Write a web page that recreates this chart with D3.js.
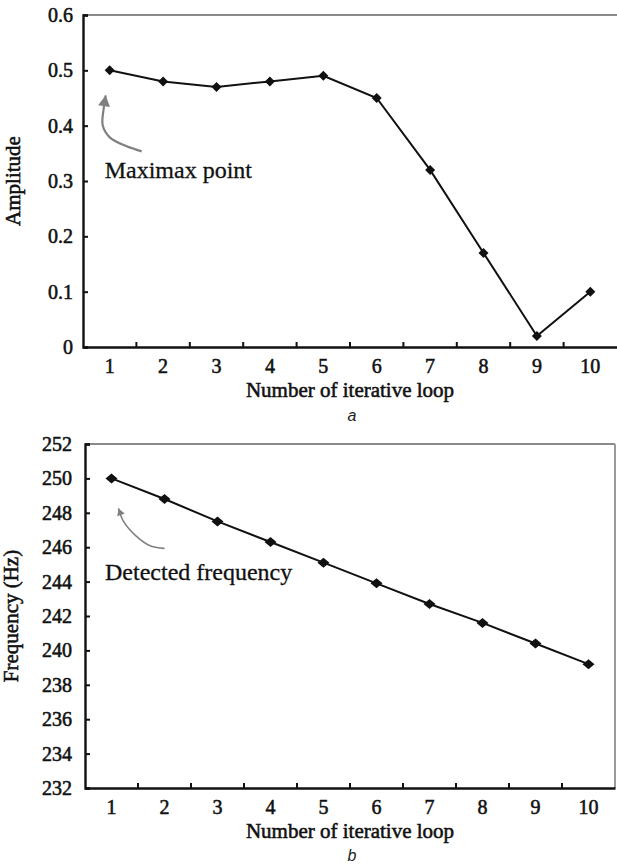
<!DOCTYPE html>
<html>
<head>
<meta charset="utf-8">
<script src="https://cdn.jsdelivr.net/npm/d3@7"></script>
<style>
  body { margin: 0; background: #fff; }
  svg { display: block; }
</style>
</head>
<body>
<svg id="chart" width="617" height="865"></svg>
<script>
// Iteration index shared by both panels
const loops = [1, 2, 3, 4, 5, 6, 7, 8, 9, 10];

// Panel a: amplitude per iterative loop
const amplitude = [0.50, 0.48, 0.47, 0.48, 0.49, 0.45, 0.32, 0.17, 0.02, 0.10];
const amplitudeTicks = [0, 0.1, 0.2, 0.3, 0.4, 0.5, 0.6];

// Panel b: detected frequency (Hz) per iterative loop
const frequency = [250.0, 248.8, 247.5, 246.3, 245.1, 243.9, 242.7, 241.6, 240.4, 239.2];
const frequencyTicks = [232, 234, 236, 238, 240, 242, 244, 246, 248, 250, 252];

const SERIF = "'Liberation Serif', 'Times New Roman', Times, 'DejaVu Serif', serif";
const SANS = "'Liberation Sans', Arial, 'DejaVu Sans', sans-serif";

const svg = d3.select("#chart");

// Diamond marker usable with d3.symbol()
function diamond(w, h) {
  return {
    draw(ctx) {
      ctx.moveTo(0, -h / 2);
      ctx.lineTo(w / 2, 0);
      ctx.lineTo(0, h / 2);
      ctx.lineTo(-w / 2, 0);
      ctx.closePath();
    }
  };
}

function styleText(sel, size) {
  sel.style("font-family", SERIF)
    .style("font-size", size + "px")
    .attr("fill", "#111").attr("stroke", "#111").attr("stroke-width", 0.55);
}

function drawPanel(cfg) {
  const g = svg.append("g");
  const x = d3.scaleBand().domain(loops).range([cfg.left, cfg.right]);
  const y = d3.scaleLinear().domain(cfg.domain).range([cfg.bottom, cfg.top]);
  const cx = d => x(d) + x.bandwidth() / 2;

  // grey frame (top and optional right edge)
  g.append("line")
    .attr("x1", cfg.left).attr("x2", cfg.right)
    .attr("y1", cfg.top).attr("y2", cfg.top)
    .attr("stroke", "#8a8a8a").attr("stroke-width", 2.2);
  if (cfg.rightBorder) {
    g.append("line")
      .attr("x1", cfg.right).attr("x2", cfg.right)
      .attr("y1", cfg.top).attr("y2", cfg.bottom)
      .attr("stroke", "#9a9a9a").attr("stroke-width", 2);
  }

  // y axis
  const yAxis = g.append("g")
    .attr("transform", `translate(${cfg.left},0)`)
    .call(d3.axisLeft(y).tickValues(cfg.ticks).tickSize(-5)
      .tickPadding(cfg.yPad).tickFormat(cfg.format));
  yAxis.select(".domain").attr("stroke", "#111").attr("stroke-width", 2.4);
  yAxis.selectAll(".tick line").attr("stroke", "#111").attr("stroke-width", 2);
  styleText(yAxis.selectAll(".tick text"), 20);

  // x axis: labels centred in each band, ticks on band boundaries
  const xAxis = g.append("g")
    .attr("transform", `translate(0,${cfg.bottom})`)
    .call(d3.axisBottom(x).tickSize(0).tickPadding(12));
  xAxis.select(".domain").attr("stroke", "#111").attr("stroke-width", 2.4);
  styleText(xAxis.selectAll(".tick text"), 20);
  g.append("g").selectAll("line")
    .data(loops.slice(0, -1))
    .join("line")
    .attr("x1", d => x(d) + x.bandwidth()).attr("x2", d => x(d) + x.bandwidth())
    .attr("y1", cfg.bottom).attr("y2", cfg.bottom - 5)
    .attr("stroke", "#111").attr("stroke-width", 2);

  // axis titles
  g.append("text")
    .attr("x", (cfg.left + cfg.right) / 2).attr("y", cfg.bottom + 50)
    .attr("text-anchor", "middle")
    .call(styleText, 21)
    .text("Number of iterative loop");
  g.append("text")
    .attr("transform", `translate(${cfg.yTitleX},${(cfg.top + cfg.bottom) / 2}) rotate(-90)`)
    .attr("text-anchor", "middle")
    .call(styleText, 21)
    .text(cfg.yTitle);

  // panel letter
  g.append("text")
    .attr("x", (cfg.left + cfg.right) / 2 + 2).attr("y", cfg.bottom + cfg.letterDy)
    .attr("text-anchor", "middle")
    .style("font-family", SANS)
    .style("font-style", "italic").style("font-size", "16px")
    .attr("fill", "#222")
    .text(cfg.letter);

  // series line and markers
  const line = d3.line().x((d, i) => cx(loops[i])).y(d => y(d));
  g.append("path")
    .datum(cfg.values)
    .attr("d", line)
    .attr("fill", "none").attr("stroke", "#111").attr("stroke-width", 2);
  g.append("g").selectAll("path")
    .data(cfg.values)
    .join("path")
    .attr("transform", (d, i) => `translate(${cx(loops[i])},${y(d)})`)
    .attr("d", d3.symbol().type(diamond(cfg.mw, cfg.mh)))
    .attr("fill", "#111");

  // annotation: curved grey arrow and label, placed relative to the first point
  const px = cx(loops[0]), py = y(cfg.values[0]);
  const pts = cfg.arrow.map(([dx, dy]) => [px + dx, py + dy]);
  g.append("path")
    .attr("d", d3.line().curve(d3.curveCatmullRom)(pts))
    .attr("fill", "none").attr("stroke", "#808080").attr("stroke-width", cfg.arrowWidth);
  const [hx, hy] = pts[pts.length - 1];
  const [bx, by] = pts[pts.length - 2];
  const ang = Math.atan2(hy - by, hx - bx);
  const L = cfg.headLen, W = cfg.headHalf;
  const head = [
    [hx, hy],
    [hx - L * Math.cos(ang) + W * Math.sin(ang), hy - L * Math.sin(ang) - W * Math.cos(ang)],
    [hx - L * Math.cos(ang) - W * Math.sin(ang), hy - L * Math.sin(ang) + W * Math.cos(ang)]
  ];
  g.append("path")
    .attr("d", d3.line()(head) + "Z")
    .attr("fill", "#808080");
  g.append("text")
    .attr("x", px + cfg.labelDx).attr("y", py + cfg.labelDy)
    .style("font-family", SERIF).style("font-size", "24px")
    .attr("fill", "#111").attr("stroke", "#111").attr("stroke-width", 0.3)
    .text(cfg.label);
}

drawPanel({
  left: 83, right: 617, top: 15, bottom: 347,
  domain: [0, 0.6], ticks: amplitudeTicks,
  format: d => d === 0 ? "0" : d3.format(".1f")(d),
  yPad: 10, yTitle: "Amplitude", yTitleX: 20, letter: "a", letterDy: 74,
  values: amplitude, mw: 10, mh: 10, rightBorder: false,
  arrow: [[32, 81], [17, 76], [0, 67], [-7, 55], [-6, 38], [-4, 25]],
  arrowWidth: 2.2, headLen: 11, headHalf: 6,
  label: "Maximax point", labelDx: -5, labelDy: 108
});

drawPanel({
  left: 85, right: 615, top: 444, bottom: 788,
  domain: [232, 252], ticks: frequencyTicks,
  format: d3.format("d"),
  yPad: 13, yTitle: "Frequency (Hz)", yTitleX: 18, letter: "b", letterDy: 73,
  values: frequency, mw: 12, mh: 10, rightBorder: true,
  arrow: [[53, 70], [38, 67], [25, 58], [12, 43], [7, 30]],
  arrowWidth: 1.6, headLen: 7, headHalf: 4,
  label: "Detected frequency", labelDx: -6.5, labelDy: 101.5
});
</script>
</body>
</html>
